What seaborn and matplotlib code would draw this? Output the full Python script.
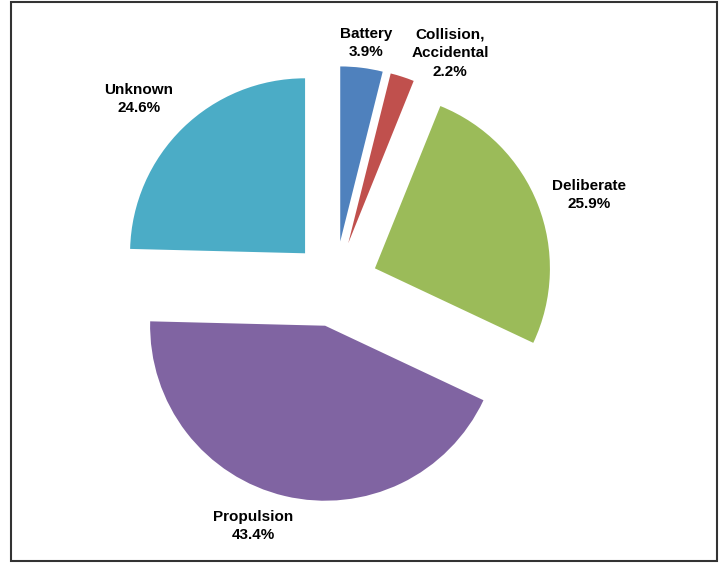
import matplotlib
matplotlib.use("Agg")
import matplotlib.pyplot as plt
from matplotlib.patches import Rectangle
import seaborn as sns

# Datos del gráfico (porcentajes por causa)
categories = ["Battery", "Collision,\nAccidental", "Deliberate", "Propulsion", "Unknown"]
shares = [3.9, 2.2, 25.9, 43.4, 24.6]
colors = ["#4F81BD", "#C0504D", "#9BBB59", "#8064A2", "#4BACC6"]

# Posiciones de las etiquetas (en píxeles, origen abajo a la izquierda)
label_xy = [(366, 520), (450, 510), (589, 368), (253, 37), (139, 464)]

W, H = 723, 563
RADIUS = 175

sns.set_theme(style="white")
plt.rcParams["font.family"] = ["Liberation Sans", "DejaVu Sans"]

fig = plt.figure(figsize=(W / 100, H / 100), dpi=100)
ax = fig.add_axes([0, 0, 1, 1])

# en matplotlib el explode va en unidades de datos, no en fracción del radio
ax.pie(
    shares,
    colors=colors,
    startangle=90,
    counterclock=False,
    explode=[0.245 * RADIUS] * len(shares),
    radius=RADIUS,
    center=(335, H - 284),
    wedgeprops={"linewidth": 0},
)

for name, val, (x, y) in zip(categories, shares, label_xy):
    ax.text(x, y, f"{name}\n{val:.1f}%", ha="center", va="center",
            fontsize=11, fontweight="bold", color="black", linespacing=1.45)

# Marco exterior
ax.add_patch(Rectangle((11, 2), 706, 559, fill=False, edgecolor="#333333", linewidth=1.5))

ax.set_xlim(0, W)
ax.set_ylim(0, H)
ax.set_aspect("equal")
ax.axis("off")

fig.savefig("out.png", dpi=100, facecolor="white")
